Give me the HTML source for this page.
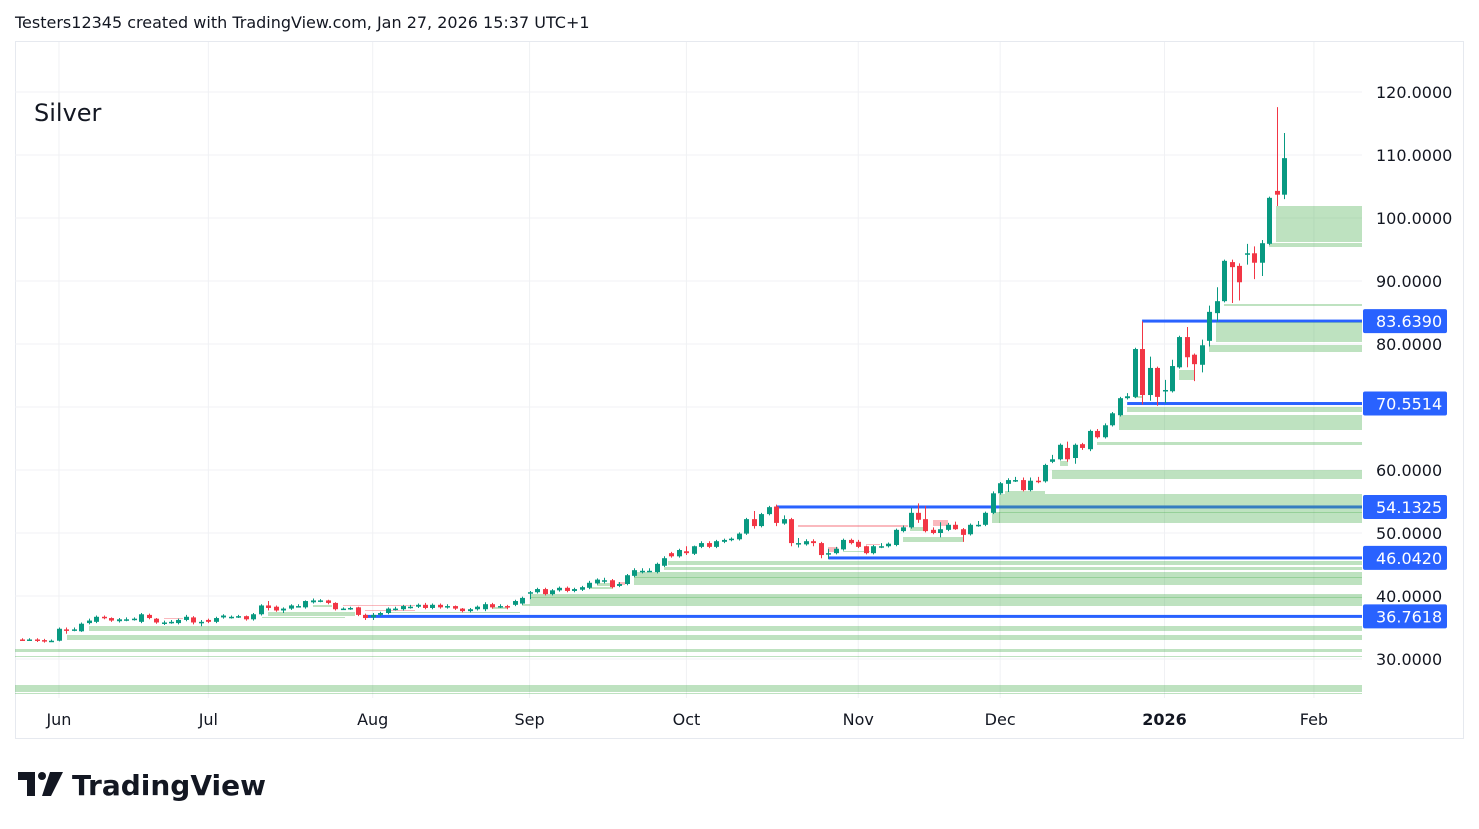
<!DOCTYPE html>
<html><head><meta charset="utf-8"><style>
html,body{margin:0;padding:0;background:#fff;}
body{width:1479px;height:829px;overflow:hidden;font-family:"DejaVu Sans",sans-serif;}
</style></head><body>
<svg id="chart" width="1479" height="829" xmlns="http://www.w3.org/2000/svg" style="position:absolute;left:0;top:0">
<text x="15" y="28" font-size="16" fill="#131722" font-family="DejaVu Sans, sans-serif">Testers12345 created with TradingView.com, Jan 27, 2026 15:37 UTC+1</text>
<rect x="15.5" y="41.5" width="1448" height="697" fill="none" stroke="#e6e9ef"/>
<g id="grid"></g>
<g id="zones"></g>
<g id="levels"></g>
<g id="candles"></g>
<g id="axes"></g>
<text x="34" y="121" font-size="24" fill="#131722" font-family="DejaVu Sans, sans-serif">Silver</text>
<g>
<path d="M18 772 h17 v24 h-8 v-16 h-9 z" fill="#131722"/>
<circle cx="42" cy="776" r="4" fill="#131722"/>
<path d="M50 772 h13 l-12 24 h-9 z" fill="#131722"/>
<text x="72" y="795" font-size="28" font-weight="bold" fill="#131722" font-family="DejaVu Sans, sans-serif">TradingView</text>
</g>
</svg>
<script>
const opens=[33.1,33.0,33.1,33.0,32.8,32.9,34.7,34.6,34.4,35.7,35.9,36.7,36.5,36.0,36.3,36.4,35.9,37.0,36.4,35.8,35.9,35.7,36.2,36.6,35.9,36.2,35.9,36.6,36.7,36.7,36.8,36.3,37.1,38.5,38.3,37.7,38.0,38.4,38.2,39.0,39.3,39.3,38.9,38.0,38.1,38.2,37.0,36.6,37.0,37.3,38.0,37.9,38.3,38.3,38.6,38.1,38.6,38.2,38.4,38.0,37.6,37.9,37.9,38.7,38.4,38.4,38.6,38.8,40.5,40.6,41.1,40.3,40.9,41.3,40.8,41.0,41.3,42.0,42.5,42.5,41.6,41.9,43.2,44.0,44.0,43.8,44.8,46.8,46.3,47.1,46.7,47.8,48.4,47.8,48.6,48.9,49.0,49.9,52.2,51.1,53.0,54.2,51.5,52.2,48.4,48.2,48.7,48.4,46.6,46.8,47.4,48.9,48.6,47.9,46.8,47.9,47.9,48.1,50.3,50.9,53.2,52.2,50.5,50.0,50.5,51.3,50.6,49.8,51.3,51.3,53.2,56.3,57.8,58.4,58.4,56.8,58.3,58.2,61.3,61.7,63.5,61.9,64.1,63.3,66.2,65.2,67.1,68.7,71.4,71.6,79.2,71.9,76.2,72.5,72.5,76.3,81.1,78.3,76.7,80.5,84.9,86.8,93.0,92.4,94.3,94.4,92.9,95.9,104.3,103.7];
const closes=[33.0,33.1,33.0,32.8,32.9,34.8,34.5,34.7,35.6,36.1,36.7,36.5,36.1,36.3,36.3,36.4,37.1,36.5,35.8,35.8,35.9,36.2,36.7,35.8,35.9,35.9,36.5,36.9,36.7,36.8,36.3,37.1,38.5,38.1,37.7,38.0,38.5,38.4,39.2,39.3,39.3,38.9,37.9,38.0,38.1,37.0,36.5,37.0,37.3,38.0,38.0,38.4,38.3,38.6,38.1,38.6,38.2,38.4,38.0,37.6,37.9,38.3,38.7,38.2,38.4,38.3,39.2,39.7,40.6,41.1,40.3,40.9,41.3,40.8,41.1,41.4,42.1,42.6,42.5,41.4,41.9,43.3,44.1,44.0,44.0,45.1,46.0,46.3,47.3,46.8,47.9,48.4,47.8,48.7,48.9,49.1,49.9,52.2,51.1,53.0,54.1,51.6,52.2,48.4,48.4,48.7,48.4,46.5,46.8,47.5,48.9,48.4,47.8,46.8,47.9,47.9,48.3,50.5,50.9,53.2,52.1,50.3,50.0,50.6,51.3,50.6,49.7,51.3,51.3,53.2,56.3,57.9,58.4,58.4,56.8,58.3,58.2,60.8,61.7,64.0,61.7,64.0,63.5,66.2,65.2,67.1,69.0,71.4,71.7,79.2,71.9,76.2,71.6,72.7,76.5,81.1,77.9,76.8,79.8,85.1,86.8,93.2,92.2,89.8,94.4,92.9,96.0,103.2,103.7,109.5];
const highs=[33.3,33.3,33.3,33.2,33.1,35.0,35.0,35.0,35.8,36.4,36.9,36.9,36.6,36.5,36.6,36.6,37.3,37.2,36.5,36.1,36.2,36.4,37.0,36.8,36.2,36.4,36.7,37.1,36.9,37.0,36.9,37.3,38.7,39.2,38.5,38.2,38.7,38.7,39.3,39.6,39.5,39.4,39.0,38.2,38.3,38.3,37.2,37.3,37.5,38.2,38.3,38.6,38.6,38.8,38.9,38.8,38.8,38.7,38.5,38.1,38.1,38.5,39.0,38.9,38.7,38.6,39.4,39.9,40.8,41.3,41.3,41.1,41.5,41.5,41.3,41.6,42.4,42.8,42.9,42.7,42.2,43.5,44.4,44.4,44.4,45.3,46.3,47.0,47.5,47.9,48.0,48.7,48.7,48.9,49.1,49.3,50.1,52.4,53.5,53.2,54.3,54.5,52.8,52.4,49.2,49.0,49.0,48.6,47.5,47.8,49.1,49.1,48.9,48.0,48.1,48.4,48.5,50.7,51.2,54.0,54.7,54.3,50.9,51.7,51.6,51.8,50.8,51.5,51.9,53.4,56.6,58.1,58.7,58.9,58.8,58.8,58.9,61.0,62.4,64.2,64.5,64.2,64.3,66.4,66.5,67.4,69.2,71.6,72.2,79.4,83.6,78.0,76.4,74.3,77.5,81.3,82.7,78.5,80.7,86.1,89.0,93.4,93.4,92.8,95.9,95.5,96.5,103.4,117.6,113.5];
const lows=[32.9,32.9,32.7,32.6,32.7,32.8,34.0,34.4,34.3,35.5,35.7,36.3,35.9,35.8,36.0,36.1,35.7,36.3,35.6,35.4,35.6,35.5,36.0,35.5,35.2,35.7,35.7,36.4,36.4,36.5,36.1,36.1,36.9,37.7,37.5,37.3,37.8,38.2,38.0,38.8,39.0,38.7,37.7,37.8,37.8,36.8,36.2,36.2,36.8,37.1,37.7,37.7,38.0,38.1,37.9,37.9,38.0,38.0,37.8,37.4,37.4,37.7,37.6,38.0,38.1,37.9,38.4,38.6,39.5,40.4,40.1,40.1,40.7,40.6,40.6,40.8,41.1,41.8,42.0,41.2,41.4,41.7,43.0,43.6,43.8,43.6,44.6,46.1,46.1,46.5,46.5,47.6,47.6,47.6,48.4,48.7,48.8,49.7,50.7,50.9,52.8,51.1,51.3,47.9,47.7,48.0,47.9,46.0,45.9,46.6,47.2,48.2,47.6,46.6,46.6,47.6,47.7,47.9,50.1,50.7,51.6,50.1,49.8,49.3,50.3,50.5,48.6,49.6,51.0,51.1,53.0,56.1,56.5,58.1,56.6,56.6,57.9,58.0,61.1,61.5,61.3,61.0,63.2,63.0,65.0,65.0,66.9,68.5,71.2,71.4,70.4,71.0,70.2,70.6,72.3,76.1,76.3,74.1,75.5,79.6,83.6,86.6,86.5,86.9,92.6,90.3,90.8,95.7,101.9,103.0];
const priceTicks=[30,40,50,60,70,80,90,100,110,120];
const priceTickLabels=["30.0000","40.0000","50.0000","60.0000","70.0000","80.0000","90.0000","100.0000","110.0000","120.0000"];
const monthLabels=["Jun","Jul","Aug","Sep","Oct","Nov","Dec","2026","Feb"];
const monthBarIndex=[5,25,47,68,89,112,131,153,173];
const levelPrices=[83.639,70.5514,54.1325,46.042,36.7618];
const levelLabels=["83.6390","70.5514","54.1325","46.0420","36.7618"];
const levelStartIndex=[150,148,101,108,46];

const NS="http://www.w3.org/2000/svg";
const PLOT_RIGHT=1362;
const FONT="DejaVu Sans, sans-serif";
function y(p){return 92+(120-p)*6.3;}
function x(i){return 21.6+7.47*i;}
function mk(tag,attrs,parent){const e=document.createElementNS(NS,tag);for(const k in attrs)e.setAttribute(k,attrs[k]);parent.appendChild(e);return e;}

const grid=document.getElementById('grid');
priceTicks.forEach(p=>{const l=mk('line',{x1:15,x2:PLOT_RIGHT,y1:y(p),y2:y(p),stroke:'#f0f1f4','stroke-width':1},grid);

});
monthBarIndex.forEach(i=>{const l=mk('line',{x1:x(i),x2:x(i),y1:42,y2:698,stroke:'#f0f1f4','stroke-width':1},grid);

});

const zoneRects=[[1276,206,1362,242],[1269,243,1362,247],[1224,304,1362,306],[1216,322,1362,342],[1209,345,1362,352],[1179,370,1194,380],[1134,396,1142,398],[1127,407,1362,412],[1119,415,1362,430],[1097,442,1362,445],[1060,461,1068,466],[1052,470,1362,479],[1005,491,1045,494],[999,494,1362,523],[992,512,1000,523],[910,527,925,531],[903,537,963,542],[843,551,870,552],[668,561,1362,565],[664,567,1362,570],[634,572,1362,585],[530,594,1362,604],[522,604,1362,606],[597,583,612,586],[589,587,612,589],[492,607,507,609],[268,612,355,616],[262,617,345,618],[313,605,332,607],[388,612,520,613],[89,626,1362,631],[67,635,1362,640],[15,649,1362,652],[15,656,1362,657],[15,685,1362,692],[15,693,1362,694]];
const pinkRects=[[798,525,908,527],[933,520,948,526],[828,547,838,552],[866,544,880,545],[618,582,625,585],[164,618,183,619],[343,605,415,606],[365,610,415,611]];
const darkLines=[[634,577],[530,597],[999,512]];

const levels=document.getElementById('levels');
levelPrices.forEach((p,k)=>{
 const ln=mk('rect',{x:x(levelStartIndex[k]),y:y(p)-1.5,width:PLOT_RIGHT-x(levelStartIndex[k]),height:3,fill:'#2962ff'},levels);
 
 
});
const zones=document.getElementById('zones');
zones.parentNode.appendChild(zones);
zoneRects.forEach(r=>{const e=mk('rect',{x:r[0],y:r[1],width:r[2]-r[0],height:r[3]-r[1],fill:'rgba(76,175,80,0.36)'},zones);

});
darkLines.forEach(r=>{const e=mk('rect',{x:r[0],y:r[1],width:PLOT_RIGHT-r[0],height:1,fill:'rgba(76,175,80,0.35)'},zones);

});
pinkRects.forEach(r=>{const e=mk('rect',{x:r[0],y:r[1],width:r[2]-r[0],height:r[3]-r[1],fill:'rgba(242,54,69,0.35)'},zones);

});

const cg=document.getElementById('candles');
cg.parentNode.appendChild(cg);
opens.forEach((o,i)=>{
 const c=closes[i],h=highs[i],l=lows[i];
 const col=c>=o?'#089981':'#f23645';
 const g=mk('g',{},cg);
 
 
 const cx=Math.round(x(i))+0.5;
 mk('line',{x1:cx,x2:cx,y1:y(h),y2:y(l),stroke:col,'stroke-width':1},g);
 const top=y(Math.max(o,c)),bot=y(Math.min(o,c));
 mk('rect',{x:cx-2.5,y:top,width:5,height:Math.max(bot-top,1.5),fill:col},g);
});

const ax=document.getElementById('axes');
ax.parentNode.appendChild(ax);
priceTicks.forEach((p,k)=>{const t=mk('text',{x:1376,y:y(p)+6,'font-size':16,fill:'#131722','font-family':FONT},ax);
t.textContent=priceTickLabels[k];

});
levelPrices.forEach((p,k)=>{
 const yy=y(p);
 const r=mk('rect',{x:1363,y:yy-12,width:84,height:24,rx:2,fill:'#2962ff'},ax);
 
 
 const t=mk('text',{x:1376,y:yy+6,'font-size':16,fill:'#ffffff','font-family':FONT},ax);
 t.textContent=levelLabels[k];
 
 
});
monthLabels.forEach((m,k)=>{
 const t=mk('text',{x:x(monthBarIndex[k]),y:725,'font-size':16,'text-anchor':'middle',fill:'#131722','font-weight':m==='2026'?'bold':'normal','font-family':FONT},ax);
 t.textContent=m;
 
 
});
</script>
</body></html>
